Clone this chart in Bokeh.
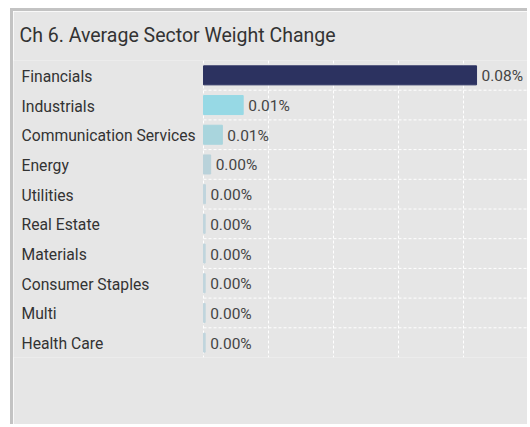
from bokeh.plotting import figure
from bokeh.models import ColumnDataSource, LabelSet, FixedTicker, Range1d
from bokeh.embed import file_html
from bokeh.resources import INLINE
from bokeh.core.properties import value

# ---- data ----
title_text = "Ch 6. Average Sector Weight Change"
sectors = ["Financials", "Industrials", "Communication Services", "Energy",
           "Utilities", "Real Estate", "Materials", "Consumer Staples",
           "Multi", "Health Care"]
weight_change = [0.084, 0.0122, 0.0058, 0.0022, 0.0006, 0.0005, 0.0005,
                 0.0005, 0.0005, 0.0005]
bar_colors = ["#2c3260", "#97d9e5", "#a9d5dd", "#b9d2da", "#c0d5dd",
              "#c0d5dd", "#c0d5dd", "#c0d5dd", "#c0d5dd", "#c0d5dd"]
x_ticks = [0.0, 0.02, 0.04, 0.06, 0.08, 0.10]

FONT = "Roboto"
PX = 0.02 / 65.0          # data units per pixel on x
X0 = -190 * PX            # frame starts 190px left of zero
X1 = 0.1006

n = len(sectors)
pos = list(range(n))
labels = ["%.2f%%" % v for v in weight_change]

src = ColumnDataSource(dict(y=pos, v=weight_change, c=bar_colors,
                            name=sectors, lab=labels))
bounds = [i + 0.5 for i in pos[:-1]]
gsrc = ColumnDataSource(dict(y=bounds, x0=[0.0] * len(bounds), x1=[X1] * len(bounds)))

p = figure(width=517, height=416, output_backend="svg", toolbar_location=None,
           x_range=Range1d(X0, X1), y_range=Range1d(n - 0.5, -0.5),
           min_border_left=0, min_border_right=0, min_border_top=49,
           min_border_bottom=70, title=title_text)
p.styles = {"border-left": "3px solid #c3c3c3", "border-top": "3px solid #c3c3c3",
            "margin-left": "10px", "margin-top": "8px"}

p.background_fill_color = "#e6e6e6"
p.border_fill_color = "#e6e6e6"
p.outline_line_color = None

p.title.text_font = FONT
p.title.text_font_size = "19.5px"
p.title.text_font_style = "normal"
p.title.text_color = "#333333"
p.title.offset = 6
p.title.standoff = 23
p.title.vertical_align = "top"

p.xaxis.visible = False
p.yaxis.visible = False

p.xgrid.ticker = FixedTicker(ticks=x_ticks)
p.xgrid.grid_line_color = "white"
p.xgrid.grid_line_dash = "3 2"
p.xgrid.grid_line_width = 1
p.ygrid.visible = False

p.segment(x0="x0", x1="x1", y0="y", y1="y", source=gsrc, line_color="white",
          line_dash="3 2", line_width=1)

p.hbar(y="y", right="v", left=0, height=0.64, color="c", source=src)

vals = LabelSet(x="v", y="y", text="lab", source=src, x_offset=5, y_offset=-1,
                text_font=value(FONT), text_font_size="15.5px", text_color="#444444",
                text_baseline="middle", text_align="left")
p.add_layout(vals)

cats = LabelSet(x=X0, y="y", text="name", source=src, x_offset=8, y_offset=-1,
                text_font=value(FONT), text_font_size="15.7px",
                text_color="#333333", text_baseline="middle", text_align="left")
p.add_layout(cats)

open("out.html", "w").write(file_html(p, INLINE))
